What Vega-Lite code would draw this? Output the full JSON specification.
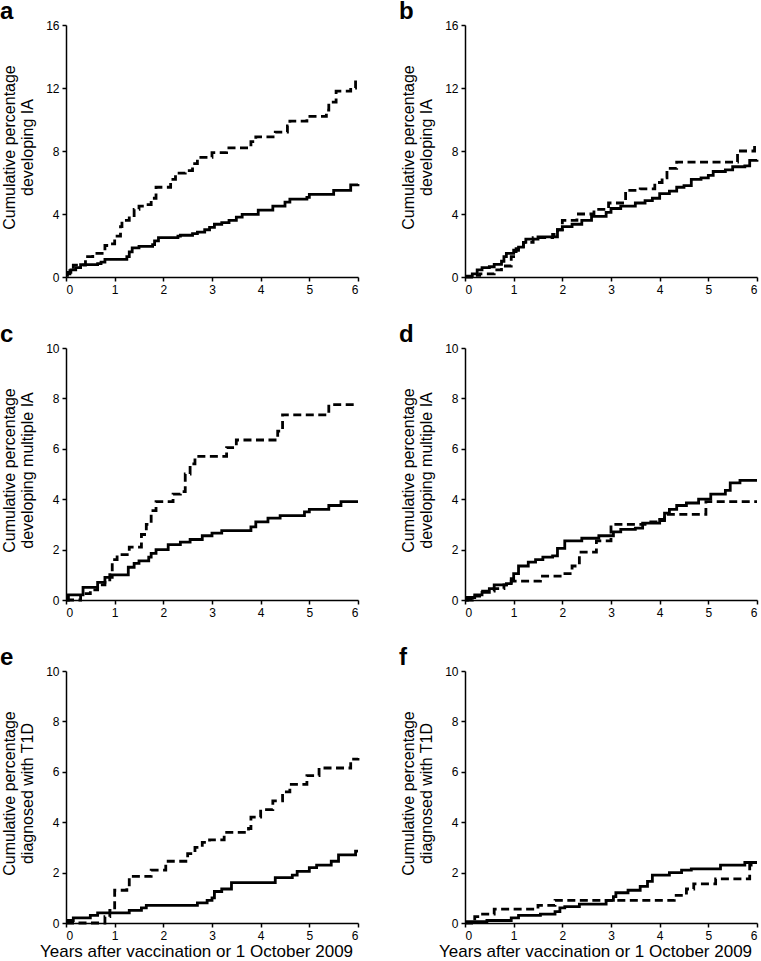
{
  "$schema": "https://vega.github.io/schema/vega-lite/v6.json",
  "background": "white",
  "padding": {"left": 0, "top": 0, "right": 0, "bottom": 0},
  "datasets": {
    "km": [
      {"p":"a","g":"s","x":0,"y":0.1},{"p":"a","g":"s","x":0.03,"y":0.3},{"p":"a","g":"s","x":0.1,"y":0.45},{"p":"a","g":"s","x":0.2,"y":0.6},{"p":"a","g":"s","x":0.3,"y":0.78},{"p":"a","g":"s","x":0.65,"y":0.85},{"p":"a","g":"s","x":0.72,"y":0.95},{"p":"a","g":"s","x":0.8,"y":1.12},{"p":"a","g":"s","x":1.25,"y":1.3},{"p":"a","g":"s","x":1.3,"y":1.6},{"p":"a","g":"s","x":1.36,"y":1.85},{"p":"a","g":"s","x":1.5,"y":1.95},{"p":"a","g":"s","x":1.78,"y":2.05},{"p":"a","g":"s","x":1.82,"y":2.3},{"p":"a","g":"s","x":1.9,"y":2.5},{"p":"a","g":"s","x":2.3,"y":2.6},{"p":"a","g":"s","x":2.35,"y":2.65},{"p":"a","g":"s","x":2.6,"y":2.75},{"p":"a","g":"s","x":2.7,"y":2.85},{"p":"a","g":"s","x":2.85,"y":3.0},{"p":"a","g":"s","x":2.95,"y":3.15},{"p":"a","g":"s","x":3.05,"y":3.35},{"p":"a","g":"s","x":3.2,"y":3.45},{"p":"a","g":"s","x":3.35,"y":3.6},{"p":"a","g":"s","x":3.5,"y":3.8},{"p":"a","g":"s","x":3.62,"y":3.98},{"p":"a","g":"s","x":3.95,"y":4.25},{"p":"a","g":"s","x":4.25,"y":4.5},{"p":"a","g":"s","x":4.5,"y":4.75},{"p":"a","g":"s","x":4.6,"y":4.95},{"p":"a","g":"s","x":4.95,"y":5.05},{"p":"a","g":"s","x":5.0,"y":5.25},{"p":"a","g":"s","x":5.5,"y":5.5},{"p":"a","g":"s","x":5.85,"y":5.85},{"p":"a","g":"s","x":6.0,"y":5.9},
      {"p":"a","g":"d","x":0,"y":0.2},{"p":"a","g":"d","x":0.08,"y":0.4},{"p":"a","g":"d","x":0.15,"y":0.75},{"p":"a","g":"d","x":0.4,"y":1.3},{"p":"a","g":"d","x":0.55,"y":1.5},{"p":"a","g":"d","x":0.8,"y":2.0},{"p":"a","g":"d","x":0.9,"y":2.1},{"p":"a","g":"d","x":1.0,"y":2.6},{"p":"a","g":"d","x":1.12,"y":3.2},{"p":"a","g":"d","x":1.15,"y":3.6},{"p":"a","g":"d","x":1.3,"y":3.9},{"p":"a","g":"d","x":1.4,"y":4.3},{"p":"a","g":"d","x":1.5,"y":4.5},{"p":"a","g":"d","x":1.65,"y":4.6},{"p":"a","g":"d","x":1.75,"y":5.0},{"p":"a","g":"d","x":1.85,"y":5.7},{"p":"a","g":"d","x":2.15,"y":6.2},{"p":"a","g":"d","x":2.25,"y":6.6},{"p":"a","g":"d","x":2.45,"y":6.75},{"p":"a","g":"d","x":2.6,"y":7.2},{"p":"a","g":"d","x":2.7,"y":7.6},{"p":"a","g":"d","x":3.0,"y":7.9},{"p":"a","g":"d","x":3.3,"y":8.2},{"p":"a","g":"d","x":3.8,"y":8.6},{"p":"a","g":"d","x":3.9,"y":8.9},{"p":"a","g":"d","x":4.3,"y":9.2},{"p":"a","g":"d","x":4.55,"y":9.6},{"p":"a","g":"d","x":4.6,"y":9.9},{"p":"a","g":"d","x":4.95,"y":10.2},{"p":"a","g":"d","x":5.35,"y":10.6},{"p":"a","g":"d","x":5.4,"y":11.1},{"p":"a","g":"d","x":5.55,"y":11.8},{"p":"a","g":"d","x":5.85,"y":12.0},{"p":"a","g":"d","x":5.95,"y":12.5},{"p":"a","g":"d","x":6.0,"y":12.5},
      {"p":"b","g":"s","x":0,"y":0.05},{"p":"b","g":"s","x":0.15,"y":0.2},{"p":"b","g":"s","x":0.25,"y":0.45},{"p":"b","g":"s","x":0.35,"y":0.6},{"p":"b","g":"s","x":0.5,"y":0.65},{"p":"b","g":"s","x":0.6,"y":0.8},{"p":"b","g":"s","x":0.75,"y":1.0},{"p":"b","g":"s","x":0.8,"y":1.3},{"p":"b","g":"s","x":0.85,"y":1.5},{"p":"b","g":"s","x":1.0,"y":1.7},{"p":"b","g":"s","x":1.1,"y":1.9},{"p":"b","g":"s","x":1.2,"y":2.2},{"p":"b","g":"s","x":1.25,"y":2.4},{"p":"b","g":"s","x":1.5,"y":2.55},{"p":"b","g":"s","x":1.9,"y":3.0},{"p":"b","g":"s","x":2.0,"y":3.2},{"p":"b","g":"s","x":2.2,"y":3.35},{"p":"b","g":"s","x":2.4,"y":3.6},{"p":"b","g":"s","x":2.6,"y":3.85},{"p":"b","g":"s","x":2.9,"y":4.1},{"p":"b","g":"s","x":3.0,"y":4.35},{"p":"b","g":"s","x":3.2,"y":4.5},{"p":"b","g":"s","x":3.5,"y":4.7},{"p":"b","g":"s","x":3.7,"y":4.85},{"p":"b","g":"s","x":3.85,"y":5.0},{"p":"b","g":"s","x":4.0,"y":5.3},{"p":"b","g":"s","x":4.2,"y":5.45},{"p":"b","g":"s","x":4.35,"y":5.7},{"p":"b","g":"s","x":4.5,"y":5.8},{"p":"b","g":"s","x":4.65,"y":6.2},{"p":"b","g":"s","x":4.85,"y":6.3},{"p":"b","g":"s","x":5.0,"y":6.45},{"p":"b","g":"s","x":5.1,"y":6.7},{"p":"b","g":"s","x":5.35,"y":6.8},{"p":"b","g":"s","x":5.5,"y":7.0},{"p":"b","g":"s","x":5.75,"y":7.05},{"p":"b","g":"s","x":5.85,"y":7.4},{"p":"b","g":"s","x":6.0,"y":7.45},
      {"p":"b","g":"d","x":0,"y":0.0},{"p":"b","g":"d","x":0.2,"y":0.1},{"p":"b","g":"d","x":0.3,"y":0.2},{"p":"b","g":"d","x":0.6,"y":0.45},{"p":"b","g":"d","x":0.75,"y":0.7},{"p":"b","g":"d","x":0.95,"y":1.3},{"p":"b","g":"d","x":1.05,"y":1.8},{"p":"b","g":"d","x":1.2,"y":2.2},{"p":"b","g":"d","x":1.4,"y":2.5},{"p":"b","g":"d","x":1.8,"y":2.7},{"p":"b","g":"d","x":1.9,"y":3.0},{"p":"b","g":"d","x":2.0,"y":3.6},{"p":"b","g":"d","x":2.3,"y":4.0},{"p":"b","g":"d","x":2.65,"y":4.3},{"p":"b","g":"d","x":2.95,"y":4.7},{"p":"b","g":"d","x":3.3,"y":5.5},{"p":"b","g":"d","x":3.6,"y":5.6},{"p":"b","g":"d","x":3.9,"y":6.0},{"p":"b","g":"d","x":4.05,"y":6.3},{"p":"b","g":"d","x":4.15,"y":6.9},{"p":"b","g":"d","x":4.35,"y":7.3},{"p":"b","g":"d","x":5.6,"y":8.0},{"p":"b","g":"d","x":5.95,"y":8.4},{"p":"b","g":"d","x":6.0,"y":8.4},
      {"p":"c","g":"s","x":0,"y":0},{"p":"c","g":"s","x":0.05,"y":0.2},{"p":"c","g":"s","x":0.35,"y":0.5},{"p":"c","g":"s","x":0.65,"y":0.7},{"p":"c","g":"s","x":0.8,"y":0.9},{"p":"c","g":"s","x":0.95,"y":1.0},{"p":"c","g":"s","x":1.28,"y":1.3},{"p":"c","g":"s","x":1.4,"y":1.45},{"p":"c","g":"s","x":1.5,"y":1.55},{"p":"c","g":"s","x":1.7,"y":1.7},{"p":"c","g":"s","x":1.75,"y":1.85},{"p":"c","g":"s","x":1.85,"y":2.0},{"p":"c","g":"s","x":2.1,"y":2.2},{"p":"c","g":"s","x":2.35,"y":2.3},{"p":"c","g":"s","x":2.55,"y":2.4},{"p":"c","g":"s","x":2.8,"y":2.55},{"p":"c","g":"s","x":3.0,"y":2.65},{"p":"c","g":"s","x":3.2,"y":2.75},{"p":"c","g":"s","x":3.8,"y":2.9},{"p":"c","g":"s","x":3.9,"y":3.1},{"p":"c","g":"s","x":4.15,"y":3.25},{"p":"c","g":"s","x":4.4,"y":3.35},{"p":"c","g":"s","x":4.9,"y":3.5},{"p":"c","g":"s","x":5.0,"y":3.6},{"p":"c","g":"s","x":5.4,"y":3.75},{"p":"c","g":"s","x":5.65,"y":3.9},{"p":"c","g":"s","x":6.0,"y":3.9},
      {"p":"c","g":"d","x":0,"y":0},{"p":"c","g":"d","x":0.3,"y":0.25},{"p":"c","g":"d","x":0.5,"y":0.4},{"p":"c","g":"d","x":0.65,"y":0.6},{"p":"c","g":"d","x":0.8,"y":0.8},{"p":"c","g":"d","x":0.9,"y":1.1},{"p":"c","g":"d","x":0.95,"y":1.6},{"p":"c","g":"d","x":1.05,"y":1.8},{"p":"c","g":"d","x":1.3,"y":2.1},{"p":"c","g":"d","x":1.55,"y":2.6},{"p":"c","g":"d","x":1.65,"y":3.0},{"p":"c","g":"d","x":1.75,"y":3.55},{"p":"c","g":"d","x":1.85,"y":3.9},{"p":"c","g":"d","x":2.2,"y":4.2},{"p":"c","g":"d","x":2.35,"y":4.3},{"p":"c","g":"d","x":2.45,"y":5.0},{"p":"c","g":"d","x":2.55,"y":5.4},{"p":"c","g":"d","x":2.65,"y":5.7},{"p":"c","g":"d","x":3.3,"y":6.05},{"p":"c","g":"d","x":3.5,"y":6.35},{"p":"c","g":"d","x":4.35,"y":6.7},{"p":"c","g":"d","x":4.45,"y":7.35},{"p":"c","g":"d","x":5.4,"y":7.75},{"p":"c","g":"d","x":6.0,"y":7.75},
      {"p":"d","g":"s","x":0,"y":0},{"p":"d","g":"s","x":0.05,"y":0.1},{"p":"d","g":"s","x":0.2,"y":0.2},{"p":"d","g":"s","x":0.35,"y":0.3},{"p":"d","g":"s","x":0.5,"y":0.45},{"p":"d","g":"s","x":0.6,"y":0.6},{"p":"d","g":"s","x":0.85,"y":0.65},{"p":"d","g":"s","x":0.95,"y":0.85},{"p":"d","g":"s","x":1.0,"y":1.05},{"p":"d","g":"s","x":1.1,"y":1.35},{"p":"d","g":"s","x":1.3,"y":1.5},{"p":"d","g":"s","x":1.45,"y":1.6},{"p":"d","g":"s","x":1.6,"y":1.7},{"p":"d","g":"s","x":1.8,"y":1.75},{"p":"d","g":"s","x":1.9,"y":2.05},{"p":"d","g":"s","x":2.05,"y":2.35},{"p":"d","g":"s","x":2.4,"y":2.45},{"p":"d","g":"s","x":2.75,"y":2.55},{"p":"d","g":"s","x":3.05,"y":2.7},{"p":"d","g":"s","x":3.2,"y":2.8},{"p":"d","g":"s","x":3.5,"y":2.85},{"p":"d","g":"s","x":3.65,"y":3.05},{"p":"d","g":"s","x":4.0,"y":3.15},{"p":"d","g":"s","x":4.1,"y":3.45},{"p":"d","g":"s","x":4.2,"y":3.6},{"p":"d","g":"s","x":4.35,"y":3.75},{"p":"d","g":"s","x":4.55,"y":3.85},{"p":"d","g":"s","x":4.8,"y":4.0},{"p":"d","g":"s","x":5.05,"y":4.2},{"p":"d","g":"s","x":5.35,"y":4.35},{"p":"d","g":"s","x":5.45,"y":4.65},{"p":"d","g":"s","x":5.65,"y":4.75},{"p":"d","g":"s","x":6.0,"y":4.75},
      {"p":"d","g":"d","x":0,"y":0},{"p":"d","g":"d","x":0.15,"y":0.15},{"p":"d","g":"d","x":0.3,"y":0.35},{"p":"d","g":"d","x":0.6,"y":0.45},{"p":"d","g":"d","x":0.8,"y":0.6},{"p":"d","g":"d","x":0.95,"y":0.75},{"p":"d","g":"d","x":1.55,"y":0.95},{"p":"d","g":"d","x":2.0,"y":1.05},{"p":"d","g":"d","x":2.2,"y":1.35},{"p":"d","g":"d","x":2.35,"y":1.9},{"p":"d","g":"d","x":2.7,"y":2.35},{"p":"d","g":"d","x":3.0,"y":3.0},{"p":"d","g":"d","x":3.7,"y":3.1},{"p":"d","g":"d","x":4.0,"y":3.2},{"p":"d","g":"d","x":4.1,"y":3.4},{"p":"d","g":"d","x":4.95,"y":3.9},{"p":"d","g":"d","x":6.0,"y":3.9},
      {"p":"e","g":"s","x":0,"y":0.05},{"p":"e","g":"s","x":0.05,"y":0.1},{"p":"e","g":"s","x":0.15,"y":0.2},{"p":"e","g":"s","x":0.5,"y":0.3},{"p":"e","g":"s","x":0.65,"y":0.4},{"p":"e","g":"s","x":1.3,"y":0.5},{"p":"e","g":"s","x":1.55,"y":0.6},{"p":"e","g":"s","x":1.65,"y":0.7},{"p":"e","g":"s","x":2.7,"y":0.8},{"p":"e","g":"s","x":2.9,"y":0.9},{"p":"e","g":"s","x":3.0,"y":1.0},{"p":"e","g":"s","x":3.05,"y":1.25},{"p":"e","g":"s","x":3.2,"y":1.35},{"p":"e","g":"s","x":3.4,"y":1.6},{"p":"e","g":"s","x":4.3,"y":1.8},{"p":"e","g":"s","x":4.65,"y":1.9},{"p":"e","g":"s","x":4.75,"y":2.05},{"p":"e","g":"s","x":5.0,"y":2.2},{"p":"e","g":"s","x":5.15,"y":2.3},{"p":"e","g":"s","x":5.45,"y":2.45},{"p":"e","g":"s","x":5.6,"y":2.7},{"p":"e","g":"s","x":5.95,"y":2.85},{"p":"e","g":"s","x":6.0,"y":2.85},
      {"p":"e","g":"d","x":0,"y":0},{"p":"e","g":"d","x":0.8,"y":0.25},{"p":"e","g":"d","x":0.9,"y":0.5},{"p":"e","g":"d","x":1.0,"y":1.3},{"p":"e","g":"d","x":1.25,"y":1.4},{"p":"e","g":"d","x":1.3,"y":1.85},{"p":"e","g":"d","x":1.75,"y":2.1},{"p":"e","g":"d","x":2.05,"y":2.45},{"p":"e","g":"d","x":2.5,"y":2.75},{"p":"e","g":"d","x":2.65,"y":3.0},{"p":"e","g":"d","x":2.8,"y":3.2},{"p":"e","g":"d","x":2.95,"y":3.3},{"p":"e","g":"d","x":3.25,"y":3.6},{"p":"e","g":"d","x":3.75,"y":3.75},{"p":"e","g":"d","x":3.8,"y":4.2},{"p":"e","g":"d","x":4.0,"y":4.5},{"p":"e","g":"d","x":4.25,"y":4.85},{"p":"e","g":"d","x":4.45,"y":5.2},{"p":"e","g":"d","x":4.6,"y":5.5},{"p":"e","g":"d","x":4.95,"y":5.85},{"p":"e","g":"d","x":5.2,"y":6.15},{"p":"e","g":"d","x":5.85,"y":6.5},{"p":"e","g":"d","x":6.0,"y":6.55},
      {"p":"f","g":"s","x":0,"y":0.05},{"p":"f","g":"s","x":0.45,"y":0.1},{"p":"f","g":"s","x":0.95,"y":0.2},{"p":"f","g":"s","x":1.1,"y":0.3},{"p":"f","g":"s","x":1.55,"y":0.35},{"p":"f","g":"s","x":1.85,"y":0.45},{"p":"f","g":"s","x":1.95,"y":0.6},{"p":"f","g":"s","x":2.05,"y":0.65},{"p":"f","g":"s","x":2.35,"y":0.75},{"p":"f","g":"s","x":2.9,"y":0.9},{"p":"f","g":"s","x":3.05,"y":1.05},{"p":"f","g":"s","x":3.1,"y":1.2},{"p":"f","g":"s","x":3.35,"y":1.3},{"p":"f","g":"s","x":3.6,"y":1.45},{"p":"f","g":"s","x":3.75,"y":1.65},{"p":"f","g":"s","x":3.85,"y":1.9},{"p":"f","g":"s","x":4.2,"y":2.0},{"p":"f","g":"s","x":4.45,"y":2.1},{"p":"f","g":"s","x":4.65,"y":2.15},{"p":"f","g":"s","x":5.25,"y":2.3},{"p":"f","g":"s","x":5.75,"y":2.4},{"p":"f","g":"s","x":6.0,"y":2.4},
      {"p":"f","g":"d","x":0,"y":0},{"p":"f","g":"d","x":0.2,"y":0.25},{"p":"f","g":"d","x":0.3,"y":0.35},{"p":"f","g":"d","x":0.6,"y":0.55},{"p":"f","g":"d","x":1.5,"y":0.7},{"p":"f","g":"d","x":1.85,"y":0.9},{"p":"f","g":"d","x":4.3,"y":1.1},{"p":"f","g":"d","x":4.55,"y":1.35},{"p":"f","g":"d","x":4.7,"y":1.55},{"p":"f","g":"d","x":5.15,"y":1.75},{"p":"f","g":"d","x":5.85,"y":2.3},{"p":"f","g":"d","x":6.0,"y":2.3}
    ]
  },
  "data": {"name": "km"},
  "columns": 2,
  "bounds": "flush",
  "spacing": {"row": 71, "column": 107},
  "concat": [
    {
      "title": {"text": "a"},
      "width": 292, "height": 252,
      "transform": [{"filter": "datum.p === 'a'"}],
      "mark": {"type": "line", "interpolate": "step-after", "strokeWidth": 2.8, "color": "black"},
      "encoding": {
        "x": {"field": "x", "type": "quantitative", "scale": {"domain": [0, 6], "nice": false}, "axis": {"values": [0,1,2,3,4,5,6], "title": null}},
        "y": {"field": "y", "type": "quantitative", "scale": {"domain": [0, 16], "nice": false}, "axis": {"values": [0,4,8,12,16], "title": ["Cumulative percentage", "developing IA"]}},
        "strokeDash": {"field": "g", "type": "nominal", "scale": {"domain": ["s","d"], "range": [[1,0],[8,4.5]]}, "legend": null}
      }
    },
    {
      "title": {"text": "b"},
      "width": 292, "height": 252,
      "transform": [{"filter": "datum.p === 'b'"}],
      "mark": {"type": "line", "interpolate": "step-after", "strokeWidth": 2.8, "color": "black"},
      "encoding": {
        "x": {"field": "x", "type": "quantitative", "scale": {"domain": [0, 6], "nice": false}, "axis": {"values": [0,1,2,3,4,5,6], "title": null}},
        "y": {"field": "y", "type": "quantitative", "scale": {"domain": [0, 16], "nice": false}, "axis": {"values": [0,4,8,12,16], "title": ["Cumulative percentage", "developing IA"]}},
        "strokeDash": {"field": "g", "type": "nominal", "scale": {"domain": ["s","d"], "range": [[1,0],[8,4.5]]}, "legend": null}
      }
    },
    {
      "title": {"text": "c"},
      "width": 292, "height": 252,
      "transform": [{"filter": "datum.p === 'c'"}],
      "mark": {"type": "line", "interpolate": "step-after", "strokeWidth": 2.8, "color": "black"},
      "encoding": {
        "x": {"field": "x", "type": "quantitative", "scale": {"domain": [0, 6], "nice": false}, "axis": {"values": [0,1,2,3,4,5,6], "title": null}},
        "y": {"field": "y", "type": "quantitative", "scale": {"domain": [0, 10], "nice": false}, "axis": {"values": [0,2,4,6,8,10], "title": ["Cumulative percentage", "developing multiple IA"]}},
        "strokeDash": {"field": "g", "type": "nominal", "scale": {"domain": ["s","d"], "range": [[1,0],[8,4.5]]}, "legend": null}
      }
    },
    {
      "title": {"text": "d"},
      "width": 292, "height": 252,
      "transform": [{"filter": "datum.p === 'd'"}],
      "mark": {"type": "line", "interpolate": "step-after", "strokeWidth": 2.8, "color": "black"},
      "encoding": {
        "x": {"field": "x", "type": "quantitative", "scale": {"domain": [0, 6], "nice": false}, "axis": {"values": [0,1,2,3,4,5,6], "title": null}},
        "y": {"field": "y", "type": "quantitative", "scale": {"domain": [0, 10], "nice": false}, "axis": {"values": [0,2,4,6,8,10], "title": ["Cumulative percentage", "developing multiple IA"]}},
        "strokeDash": {"field": "g", "type": "nominal", "scale": {"domain": ["s","d"], "range": [[1,0],[8,4.5]]}, "legend": null}
      }
    },
    {
      "title": {"text": "e"},
      "width": 292, "height": 252,
      "transform": [{"filter": "datum.p === 'e'"}],
      "mark": {"type": "line", "interpolate": "step-after", "strokeWidth": 2.8, "color": "black"},
      "encoding": {
        "x": {"field": "x", "type": "quantitative", "scale": {"domain": [0, 6], "nice": false}, "axis": {"values": [0,1,2,3,4,5,6], "title": "Years after vaccination or 1 October 2009", "titleFontSize": 17, "titlePadding": 2, "titleX": 130}},
        "y": {"field": "y", "type": "quantitative", "scale": {"domain": [0, 10], "nice": false}, "axis": {"values": [0,2,4,6,8,10], "title": ["Cumulative percentage", "diagnosed with T1D"]}},
        "strokeDash": {"field": "g", "type": "nominal", "scale": {"domain": ["s","d"], "range": [[1,0],[8,4.5]]}, "legend": null}
      }
    },
    {
      "title": {"text": "f"},
      "width": 292, "height": 252,
      "transform": [{"filter": "datum.p === 'f'"}],
      "mark": {"type": "line", "interpolate": "step-after", "strokeWidth": 2.8, "color": "black"},
      "encoding": {
        "x": {"field": "x", "type": "quantitative", "scale": {"domain": [0, 6], "nice": false}, "axis": {"values": [0,1,2,3,4,5,6], "title": "Years after vaccination or 1 October 2009", "titleFontSize": 17, "titlePadding": 2, "titleX": 130}},
        "y": {"field": "y", "type": "quantitative", "scale": {"domain": [0, 10], "nice": false}, "axis": {"values": [0,2,4,6,8,10], "title": ["Cumulative percentage", "diagnosed with T1D"]}},
        "strokeDash": {"field": "g", "type": "nominal", "scale": {"domain": ["s","d"], "range": [[1,0],[8,4.5]]}, "legend": null}
      }
    }
  ],
  "config": {
    "view": {"stroke": null},
    "font": "Liberation Sans",
    "title": {"anchor": "start", "frame": "group", "dx": -66, "fontSize": 24, "fontWeight": "bold", "font": "Liberation Sans", "color": "black", "offset": -5, "baseline": "alphabetic"},
    "axis": {
      "grid": false,
      "domainColor": "black", "domainWidth": 1.5,
      "tickColor": "black", "tickWidth": 1.5, "tickSize": 4,
      "labelFont": "Liberation Sans", "labelFontSize": 12, "labelColor": "black", "labelPadding": 3,
      "titleFont": "Liberation Sans", "titleFontSize": 16, "titleFontWeight": "normal", "titleColor": "black", "titleLineHeight": 18, "titlePadding": 6
    },
    "axisY": {"titlePadding": 10, "titleY": 122}
  }
}
